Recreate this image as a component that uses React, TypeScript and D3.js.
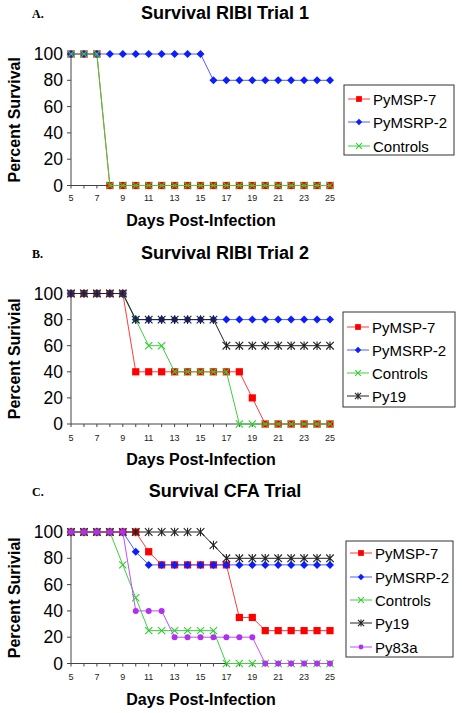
import React from "react";
import * as d3 from "d3";

const days = d3.range(5, 26);
const xTickLabels = [5, 7, 9, 11, 13, 15, 17, 19, 21, 23, 25];
const yTicks = [0, 20, 40, 60, 80, 100];

// Panel A
const aPyMSP7 = [100, 100, 100, 0, 0, 0, 0, 0, 0, 0, 0, 0, 0, 0, 0, 0, 0, 0, 0, 0, 0];
const aPyMSRP2 = [100, 100, 100, 100, 100, 100, 100, 100, 100, 100, 100, 80, 80, 80, 80, 80, 80, 80, 80, 80, 80];
const aControls = [100, 100, 100, 0, 0, 0, 0, 0, 0, 0, 0, 0, 0, 0, 0, 0, 0, 0, 0, 0, 0];

// Panel B
const bPyMSP7 = [100, 100, 100, 100, 100, 40, 40, 40, 40, 40, 40, 40, 40, 40, 20, 0, 0, 0, 0, 0, 0];
const bPyMSRP2 = [100, 100, 100, 100, 100, 80, 80, 80, 80, 80, 80, 80, 80, 80, 80, 80, 80, 80, 80, 80, 80];
const bControls = [100, 100, 100, 100, 100, 80, 60, 60, 40, 40, 40, 40, 40, 0, 0, 0, 0, 0, 0, 0, 0];
const bPy19 = [100, 100, 100, 100, 100, 80, 80, 80, 80, 80, 80, 80, 60, 60, 60, 60, 60, 60, 60, 60, 60];

// Panel C
const cPyMSP7 = [100, 100, 100, 100, 100, 100, 85, 75, 75, 75, 75, 75, 75, 35, 35, 25, 25, 25, 25, 25, 25];
const cPyMSRP2 = [100, 100, 100, 100, 100, 85, 75, 75, 75, 75, 75, 75, 75, 75, 75, 75, 75, 75, 75, 75, 75];
const cControls = [100, 100, 100, 100, 75, 50, 25, 25, 25, 25, 25, 25, 0, 0, 0, 0, 0, 0, 0, 0, 0];
const cPy19 = [100, 100, 100, 100, 100, 100, 100, 100, 100, 100, 100, 90, 80, 80, 80, 80, 80, 80, 80, 80, 80];
const cPy83a = [100, 100, 100, 100, 100, 40, 40, 40, 20, 20, 20, 20, 20, 20, 20, 0, 0, 0, 0, 0, 0];

type Kind = "square" | "diamond" | "x" | "star" | "circle";
const STYLES: Record<string, { line: string; fill: string; kind: Kind }> = {
  "PyMSP-7": { line: "#ff3b3b", fill: "#ff0000", kind: "square" },
  "PyMSRP-2": { line: "#4d5cff", fill: "#0a1eff", kind: "diamond" },
  Controls: { line: "#3fcf3f", fill: "#33cc33", kind: "x" },
  Py19: { line: "#222222", fill: "#222222", kind: "star" },
  Py83a: { line: "#c050f5", fill: "#b030f0", kind: "circle" },
};

const FONT = "Arial, 'Liberation Sans', sans-serif";

function Marker({ kind, x, y, color, s = 1 }: { kind: Kind; x: number; y: number; color: string; s?: number }) {
  if (kind === "square") {
    const h = 3.6 * s;
    return <rect x={x - h} y={y - h} width={2 * h} height={2 * h} fill={color} />;
  }
  if (kind === "diamond") {
    const h = 4 * s;
    return <path d={`M${x},${y - h}L${x + h},${y}L${x},${y + h}L${x - h},${y}Z`} fill={color} />;
  }
  if (kind === "x") {
    const h = 3.6 * s;
    return (
      <path d={`M${x - h},${y - h}L${x + h},${y + h}M${x - h},${y + h}L${x + h},${y - h}`} stroke={color} strokeWidth={1.1} fill="none" />
    );
  }
  if (kind === "star") {
    const h = 3.8 * s;
    return (
      <path
        d={`M${x - h},${y - h}L${x + h},${y + h}M${x - h},${y + h}L${x + h},${y - h}M${x},${y - h - 0.5}L${x},${y + h + 0.5}`}
        stroke={color}
        strokeWidth={1.1}
        fill="none"
      />
    );
  }
  return <circle cx={x} cy={y} r={3 * s} fill={color} />;
}

const xScale = d3.scaleLinear().domain([5, 25]).range([71, 330]);

type Series = { name: string; values: number[] };

function Panel({
  letter,
  title,
  ylabel,
  top0,
  y100,
  series,
  legend,
  titleY,
  tickY,
  xlabY,
}: {
  letter: string;
  title: string;
  ylabel: string;
  top0: number;
  y100: number;
  series: Series[];
  legend: { x0: number; x1: number; y0: number; y1: number; rows: number[] };
  titleY: number;
  tickY: number;
  xlabY: number;
}) {
  const y = d3.scaleLinear().domain([0, 100]).range([top0, y100]);
  const line = d3
    .line<number>()
    .x((_, i) => xScale(days[i]))
    .y((v) => y(v));
  const x0 = xScale(5);
  return (
    <g>
      <text x={32} y={titleY - 1} fontFamily="'Liberation Serif', 'Times New Roman', serif" fontWeight="bold" fontSize={12}>
        {letter}
      </text>
      <text x={225} y={titleY} textAnchor="middle" fontFamily={FONT} fontWeight="bold" fontSize={18}>
        {title}
      </text>
      <line x1={x0} x2={x0} y1={y(100)} y2={y(0)} stroke="#444" strokeWidth={1} />
      <line x1={x0} x2={xScale(25)} y1={y(0)} y2={y(0)} stroke="#444" strokeWidth={1} />
      {yTicks.map((t) => (
        <g key={t}>
          <line x1={x0 - 4} x2={x0} y1={y(t)} y2={y(t)} stroke="#444" />
          <text x={63} y={y(t) + 6} textAnchor="end" fontFamily={FONT} fontSize={17.5}>
            {t}
          </text>
        </g>
      ))}
      {days.map((d) => (
        <line key={d} x1={xScale(d)} x2={xScale(d)} y1={y(0)} y2={y(0) + 3} stroke="#444" />
      ))}
      {xTickLabels.map((d) => (
        <text key={d} x={xScale(d)} y={tickY} textAnchor="middle" fontFamily={FONT} fontSize={9} fill="#222">
          {d}
        </text>
      ))}
      <text
        transform={`translate(20,${(y(0) + y(100)) / 2}) rotate(-90)`}
        textAnchor="middle"
        fontFamily={FONT}
        fontWeight="bold"
        fontSize={16}
      >
        {ylabel}
      </text>
      <text x={201} y={xlabY} textAnchor="middle" fontFamily={FONT} fontWeight="bold" fontSize={16}>
        Days Post-Infection
      </text>
      {series.map((s) => {
        const st = STYLES[s.name];
        return (
          <g key={s.name}>
            <path d={line(s.values) || ""} fill="none" stroke={st.line} strokeWidth={1} />
            {s.values.map((v, i) => (
              <Marker key={i} kind={st.kind} x={xScale(days[i])} y={y(v)} color={st.fill} />
            ))}
          </g>
        );
      })}
      <rect
        x={legend.x0}
        y={legend.y0}
        width={legend.x1 - legend.x0}
        height={legend.y1 - legend.y0}
        fill="white"
        stroke="#333"
        strokeWidth={1}
      />
      {series.map((s, i) => {
        const st = STYLES[s.name];
        const cy = legend.rows[i];
        const lx = legend.x0 + 4;
        return (
          <g key={s.name}>
            <line x1={lx} x2={lx + 22} y1={cy} y2={cy} stroke={st.line} strokeWidth={1} />
            <Marker kind={st.kind} x={lx + 11} y={cy} color={st.fill} s={0.8} />
            <text x={lx + 25} y={cy + 5.5} fontFamily={FONT} fontSize={15}>
              {s.name}
            </text>
          </g>
        );
      })}
    </g>
  );
}

export default function App() {
  return (
    <svg width={462} height={713} style={{ position: "absolute", left: 0, top: 0, background: "white" }}>
      <rect width={462} height={713} fill="white" />
      <Panel
        letter="A."
        title="Survival RIBI Trial 1"
        ylabel="Percent Survival"
        top0={185.5}
        y100={54}
        titleY={19}
        tickY={201}
        xlabY={226}
        series={[
          { name: "PyMSP-7", values: aPyMSP7 },
          { name: "PyMSRP-2", values: aPyMSRP2 },
          { name: "Controls", values: aControls },
        ]}
        legend={{ x0: 344, x1: 454, y0: 85, y1: 155, rows: [99, 122, 146] }}
      />
      <Panel
        letter="B."
        title="Survival RIBI Trial 2"
        ylabel="Percent Surivial"
        top0={424}
        y100={293.5}
        titleY={259}
        tickY={441}
        xlabY={465}
        series={[
          { name: "PyMSP-7", values: bPyMSP7 },
          { name: "PyMSRP-2", values: bPyMSRP2 },
          { name: "Controls", values: bControls },
          { name: "Py19", values: bPy19 },
        ]}
        legend={{ x0: 343, x1: 455, y0: 312, y1: 407, rows: [327, 350, 373, 396] }}
      />
      <Panel
        letter="C."
        title="Survival CFA Trial"
        ylabel="Percent Surivial"
        top0={663.5}
        y100={532}
        titleY={497}
        tickY={680}
        xlabY={705}
        series={[
          { name: "PyMSP-7", values: cPyMSP7 },
          { name: "PyMSRP-2", values: cPyMSRP2 },
          { name: "Controls", values: cControls },
          { name: "Py19", values: cPy19 },
          { name: "Py83a", values: cPy83a },
        ]}
        legend={{ x0: 346, x1: 453, y0: 541, y1: 657, rows: [553, 577, 600, 623, 647] }}
      />
    </svg>
  );
}
